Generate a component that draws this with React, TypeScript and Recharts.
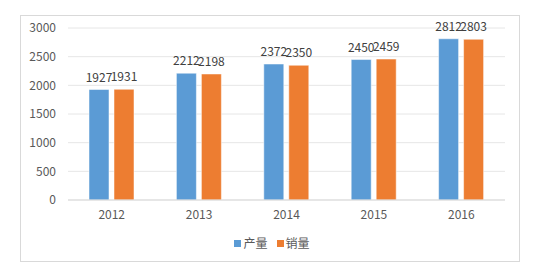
import { BarChart, Bar, XAxis, YAxis, CartesianGrid, Legend, LabelList } from "recharts";

const years = ["2012", "2013", "2014", "2015", "2016"];
const output = [1927, 2212, 2372, 2450, 2812];
const sales = [1931, 2198, 2350, 2459, 2803];
const yTicks = [0, 500, 1000, 1500, 2000, 2500, 3000];

const data = years.map((year, i) => ({ year, 产量: output[i], 销量: sales[i] }));

const font = '"Noto Sans CJK SC", "Noto Sans", sans-serif';

function LegendRow({ payload }: { payload?: Array<{ value: string; color: string }> }) {
  if (!payload) return null;
  return (
    <div style={{ display: "flex", justifyContent: "center", gap: 9, paddingTop: 6, paddingLeft: 18 }}>
      {payload.map((entry) => (
        <div key={entry.value} style={{ display: "flex", alignItems: "center", gap: 2 }}>
          <div style={{ width: 7, height: 7, background: entry.color }} />
          <span style={{ fontSize: 12, color: "#595959", lineHeight: "14px" }}>{entry.value}</span>
        </div>
      ))}
    </div>
  );
}

export default function App() {
  return (
    <div style={{ position: "absolute", left: 0, top: 0, width: 536, height: 271, background: "#fff", fontFamily: font }}>
      <div
        style={{
          position: "absolute",
          left: 20,
          top: 15,
          width: 498,
          height: 245,
          border: "1px solid #d9d9d9",
          background: "#fff",
        }}
      >
        <BarChart
          width={498}
          height={245}
          data={data}
          margin={{ top: 12, right: 14, left: 0, bottom: 0 }}
          barSize={20}
          barGap={5}
        >
          <CartesianGrid vertical={false} stroke="#e6e6e6" />
          <XAxis
            dataKey="year"
            axisLine={{ stroke: "#d9d9d9" }}
            tickLine={false}
            tickSize={0}
            tickMargin={10}
            height={30}
            tick={{ fontSize: 12, fill: "#595959", fontFamily: font }}
          />
          <YAxis
            domain={[0, 3000]}
            ticks={yTicks}
            axisLine={false}
            tickLine={false}
            tickSize={0}
            tickMargin={12}
            width={47}
            tick={{ fontSize: 12, fill: "#595959", fontFamily: font }}
          />
          <Legend verticalAlign="bottom" height={31} content={<LegendRow />} />
          <Bar dataKey="产量" fill="#5B9BD5" stroke="#ffffff" strokeOpacity={0.5} isAnimationActive={false}>
            <LabelList dataKey="产量" position="top" offset={8} fill="#404040" fontSize={12} fontFamily={font} />
          </Bar>
          <Bar dataKey="销量" fill="#ED7D31" stroke="#ffffff" strokeOpacity={0.5} isAnimationActive={false}>
            <LabelList dataKey="销量" position="top" offset={8} fill="#404040" fontSize={12} fontFamily={font} />
          </Bar>
        </BarChart>
      </div>
    </div>
  );
}
